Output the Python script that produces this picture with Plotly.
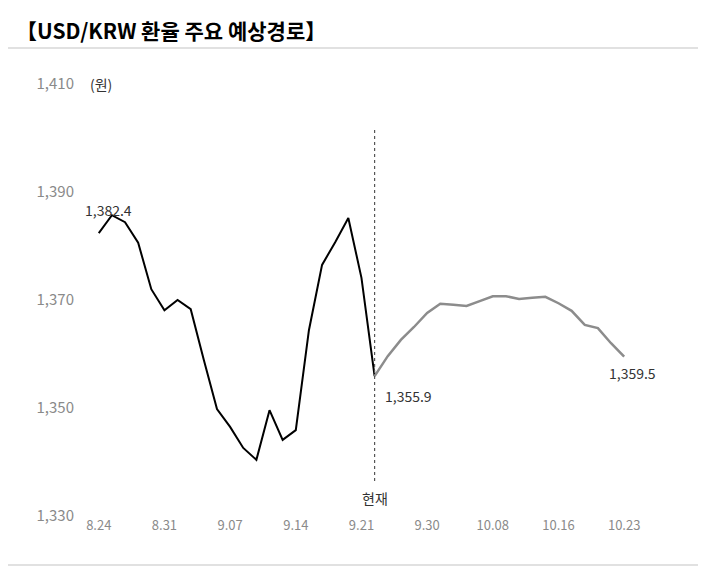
import plotly.graph_objects as go

actual = [1382.4,1385.7,1384.4,1380.6,1372.0,1368.1,1370.0,1368.3,1358.9,1349.8,1346.5,1342.6,1340.4,1349.6,1344.1,1345.9,1364.4,1376.5,1380.7,1385.2,1374.1,1355.9]
forecast = [1355.9,1359.6,1362.6,1365.0,1367.6,1369.3,1369.1,1368.9,1369.8,1370.7,1370.7,1370.2,1370.4,1370.6,1369.4,1368.0,1365.4,1364.8,1362.0,1359.5]
tick_labels = ["8.24","8.31","9.07","9.14","9.21","9.30","10.08","10.16","10.23"]
y_ticks = [1330,1350,1370,1390,1410]

W, H = 706, 570
OFF = 8  # page offset
l, r, t, b = 83.25 - OFF, 49 + OFF, 84 - OFF, 54 + OFF
xr = [-1.2, 42.5]
pw = W - l - r; ph = H - t - b
px = lambda x: (x - OFF - l) / pw
py = lambda y: (H - b - (y - OFF)) / ph

xa = list(range(len(actual)))
xf = list(range(len(actual) - 1, len(actual) - 1 + len(forecast)))
font = "Noto Sans CJK KR"
fig = go.Figure()
fig.add_trace(go.Scatter(x=xa, y=actual, mode="lines", line=dict(color="black", width=2)))
fig.add_trace(go.Scatter(x=xf, y=forecast, mode="lines", line=dict(color="#8c8c8c", width=2.5)))
fig.add_shape(type="line", x0=xa[-1], x1=xa[-1], y0=1336.5, y1=1402, line=dict(color="#555", width=1.2, dash="dot"))
fig.add_shape(type="rect", xref="paper", yref="paper", x0=px(5), x1=px(700), y0=py(565), y1=py(48), line=dict(color="#d8d8d8", width=1.5))
ann = [
    dict(x=xa[-1], y=1333.3, text="현재", yanchor="middle", xanchor="center"),
    dict(x=xa[0], y=actual[0] + 2, text=f"{actual[0]:,.1f}", yanchor="bottom", xanchor="left", xshift=-16),
    dict(x=xa[-1], y=actual[-1] - 1.5, text=f"{actual[-1]:,.1f}", yanchor="top", xanchor="left", xshift=8),
    dict(x=xf[-1], y=forecast[-1] - 0.8, text=f"{forecast[-1]:,.1f}", yanchor="top", xanchor="center", xshift=8),
    dict(xref="paper", x=px(88), y=1410, text="(원)", xanchor="left", yanchor="middle"),
    dict(xref="paper", yref="paper", x=px(14), y=py(30), text="<b>【USD/KRW 환율 주요 예상경로】</b>", xanchor="left", yanchor="middle", font=dict(size=21, color="black", family=font)),
]
for a in ann:
    a.setdefault("font", dict(size=14, color="#333", family=font))
    a["showarrow"] = False
    fig.add_annotation(**a)
fig.update_layout(
    width=W, height=H, margin=dict(l=l, r=r, t=t, b=b),
    plot_bgcolor="white", paper_bgcolor="white", showlegend=False,
    font=dict(family=font, color="#888", size=14),
    xaxis=dict(range=xr, tickvals=list(range(0, 41, 5)), ticktext=tick_labels, showgrid=False, zeroline=False,
               showline=False, tickfont=dict(size=13, color="#8a8a8a"), ticks=""),
    yaxis=dict(range=[1330, 1410], tickvals=y_ticks, ticktext=[f"{v:,}" for v in y_ticks], showgrid=False,
               zeroline=False, tickfont=dict(size=15, color="#8a8a8a"), ticklabelstandoff=8),
)
fig.write_html("out.html")
